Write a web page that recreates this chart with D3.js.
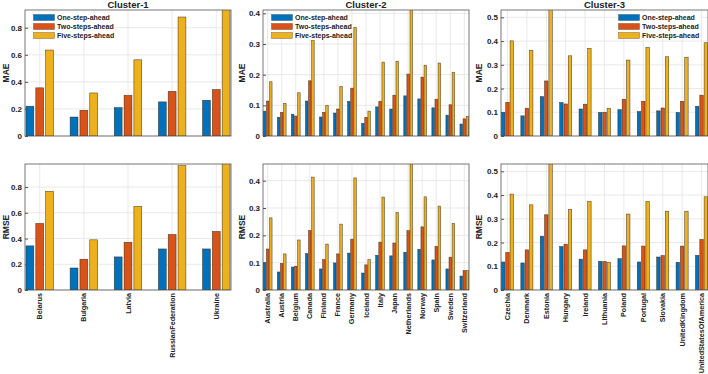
<!DOCTYPE html>
<html>
<head>
<meta charset="utf-8">
<script src="https://cdn.jsdelivr.net/npm/d3@7"></script>
<style>
  body { margin: 0; background: #fff; }
  text { font-family: "Liberation Sans", Arial, sans-serif; }
</style>
</head>
<body>
<div id="chart"></div>
<script>
// series names
const seriesNames = ["One-step-ahead", "Two-steps-ahead", "Five-steps-ahead"];

// Cluster-1
const c1Countries = ["Belarus", "Bulgaria", "Latvia", "RussianFederation", "Ukraine"];
const c1MaeOne  = [0.220, 0.140, 0.210, 0.252, 0.264];
const c1MaeTwo  = [0.356, 0.190, 0.300, 0.330, 0.343];
const c1MaeFive = [0.635, 0.318, 0.563, 0.879, 0.935];
const c1RmseOne  = [0.343, 0.171, 0.257, 0.319, 0.319];
const c1RmseTwo  = [0.517, 0.239, 0.371, 0.431, 0.455];
const c1RmseFive = [0.766, 0.390, 0.649, 0.966, 0.985];

// Cluster-2
const c2Countries = ["Australia", "Austria", "Belgium", "Canada", "Finland", "France", "Germany", "Iceland",
  "Italy", "Japan", "Netherlands", "Norway", "Spain", "Sweden", "Switzerland"];
const c2MaeOne  = [0.081, 0.061, 0.071, 0.114, 0.062, 0.075, 0.113, 0.041, 0.095, 0.088, 0.131, 0.121, 0.092, 0.068, 0.039];
const c2MaeTwo  = [0.114, 0.077, 0.065, 0.180, 0.077, 0.088, 0.156, 0.061, 0.113, 0.133, 0.202, 0.192, 0.120, 0.102, 0.056];
const c2MaeFive = [0.177, 0.106, 0.141, 0.311, 0.099, 0.162, 0.354, 0.081, 0.241, 0.244, 0.415, 0.231, 0.238, 0.208, 0.064];
const c2RmseOne  = [0.100, 0.066, 0.084, 0.133, 0.077, 0.099, 0.135, 0.062, 0.127, 0.125, 0.138, 0.149, 0.110, 0.077, 0.051];
const c2RmseTwo  = [0.150, 0.097, 0.087, 0.217, 0.111, 0.132, 0.186, 0.092, 0.175, 0.172, 0.217, 0.231, 0.160, 0.120, 0.071];
const c2RmseFive = [0.264, 0.132, 0.183, 0.413, 0.168, 0.241, 0.410, 0.111, 0.340, 0.283, 0.465, 0.341, 0.307, 0.243, 0.071];

// Cluster-3
const c3Countries = ["Czechia", "Denmark", "Estonia", "Hungary", "Ireland", "Lithuania", "Poland", "Portugal",
  "Slovakia", "UnitedKingdom", "UnitedStatesOfAmerica"];
const c3MaeOne  = [0.100, 0.085, 0.166, 0.141, 0.114, 0.099, 0.111, 0.103, 0.106, 0.099, 0.125];
const c3MaeTwo  = [0.142, 0.117, 0.232, 0.135, 0.134, 0.100, 0.155, 0.146, 0.118, 0.146, 0.172];
const c3MaeFive = [0.401, 0.361, 0.535, 0.338, 0.369, 0.117, 0.320, 0.373, 0.334, 0.332, 0.393];
const c3RmseOne  = [0.118, 0.114, 0.227, 0.183, 0.130, 0.121, 0.132, 0.118, 0.139, 0.117, 0.146];
const c3RmseTwo  = [0.158, 0.169, 0.317, 0.193, 0.169, 0.120, 0.186, 0.185, 0.145, 0.185, 0.213];
const c3RmseFive = [0.404, 0.359, 0.535, 0.339, 0.373, 0.117, 0.320, 0.373, 0.332, 0.332, 0.393];

// y axis limits / ticks per panel
const c1MaeTicks = [0, 0.2, 0.4, 0.6, 0.8], c1MaeMax = 0.931;
const c1RmseTicks = [0, 0.2, 0.4, 0.6, 0.8], c1RmseMax = 0.979;
const c2MaeTicks = [0, 0.1, 0.2, 0.3, 0.4], c2MaeMax = 0.411;
const c2RmseTicks = [0, 0.1, 0.2, 0.3, 0.4], c2RmseMax = 0.461;
const c3MaeTicks = [0, 0.1, 0.2, 0.3, 0.4, 0.5], c3MaeMax = 0.531;
const c3RmseTicks = [0, 0.1, 0.2, 0.3, 0.4, 0.5], c3RmseMax = 0.531;

const colors = ["#0072BD", "#D95319", "#EDB120"];

const svg = d3.select("#chart").append("svg")
  .attr("width", 708).attr("height", 374);

const defs = svg.append("defs");
let clipId = 0;

function drawPanel(opt) {
  const { x0, x1, y0, y1, countries, series, ticks, ymax, ylabel, showX, legendX, title } = opt;
  const g = svg.append("g");

  const x = d3.scaleBand().domain(countries).range([x0, x1])
    .paddingInner(1 - 2 / 3).paddingOuter(0);
  const xs = d3.scaleBand().domain([0, 1, 2]).range([0, x.bandwidth()]).paddingInner(0.2).paddingOuter(0.1);
  const y = d3.scaleLinear().domain([0, ymax]).range([y1, y0]);

  // grid
  g.append("g").selectAll("line").data(ticks).enter().append("line")
    .attr("x1", x0).attr("x2", x1)
    .attr("y1", d => y(d)).attr("y2", d => y(d))
    .attr("stroke", "#e3e3e3").attr("stroke-width", 0.8);
  g.append("g").selectAll("line").data(countries).enter().append("line")
    .attr("x1", d => x(d) + x.bandwidth() / 2).attr("x2", d => x(d) + x.bandwidth() / 2)
    .attr("y1", y0).attr("y2", y1)
    .attr("stroke", "#e3e3e3").attr("stroke-width", 0.8);

  // bars
  const id = "clip" + (clipId++);
  defs.append("clipPath").attr("id", id).append("rect")
    .attr("x", x0).attr("y", y0).attr("width", x1 - x0).attr("height", y1 - y0);
  const bars = g.append("g").attr("clip-path", `url(#${id})`);
  series.forEach((vals, si) => {
    bars.selectAll(null).data(vals).enter().append("rect")
      .attr("x", (d, i) => x(countries[i]) + xs(si))
      .attr("width", xs.bandwidth())
      .attr("y", d => y(d))
      .attr("height", d => y(0) - y(d))
      .attr("fill", colors[si])
      .attr("stroke", "rgba(40,30,10,0.75)")
      .attr("stroke-width", 0.6);
  });

  // axes
  const ya = g.append("g").attr("transform", `translate(${x0},0)`)
    .call(d3.axisLeft(y).tickValues(ticks).tickFormat(d => String(+d.toFixed(2))).tickSize(-3).tickPadding(3));
  ya.select(".domain").remove();
  ya.selectAll("line").attr("stroke", "#555");
  ya.selectAll("text").style("font-size", "8px").style("font-weight", "bold").attr("fill", "#222");

  const xa = g.append("g").attr("transform", `translate(0,${y1})`)
    .call(d3.axisBottom(x).tickSize(0).tickPadding(3));
  xa.select(".domain").remove();
  if (showX) {
    xa.selectAll("text")
      .style("font-size", "7.2px").style("font-weight", "bold").attr("fill", "#222")
      .attr("text-anchor", "end")
      .attr("dy", "0.35em")
      .attr("transform", "translate(0,3) rotate(-90)")
      .attr("x", 0).attr("y", 0);
  } else {
    xa.selectAll("text").remove();
  }

  // box
  g.append("rect").attr("x", x0).attr("y", y0).attr("width", x1 - x0).attr("height", y1 - y0)
    .attr("fill", "none").attr("stroke", "#555").attr("stroke-width", 0.8);

  // y label
  g.append("text")
    .attr("transform", `translate(${opt.ylabelX},${(y0 + y1) / 2}) rotate(-90)`)
    .attr("text-anchor", "middle")
    .style("font-size", "8.5px").style("font-weight", "bold").attr("fill", "#222")
    .text(ylabel);

  if (title) {
    svg.append("text").attr("x", (x0 + x1) / 2).attr("y", 8)
      .attr("text-anchor", "middle")
      .style("font-size", "9.5px").style("font-weight", "bold").attr("fill", "#222")
      .text(title);
  }

  if (legendX !== undefined) {
    const lg = g.append("g").attr("transform", `translate(${legendX},${y0 + 2})`);
    lg.append("rect").attr("x", 0).attr("y", 0).attr("width", opt.legendW).attr("height", 26)
      .attr("fill", "#fff").attr("stroke", "#f0f0f0").attr("stroke-width", 0.6);
    seriesNames.forEach((s, i) => {
      lg.append("rect").attr("x", 1.5).attr("y", 2.5 + i * 9).attr("width", 21).attr("height", 6)
        .attr("fill", colors[i]).attr("stroke", "rgba(40,30,10,0.6)").attr("stroke-width", 0.5);
      lg.append("text").attr("x", 25).attr("y", 5.5 + i * 9).attr("dy", "0.35em")
        .style("font-size", "7px").style("font-weight", "bold").attr("fill", "#222")
        .text(s);
    });
  }
}

const topY = [10, 136], botY = [164, 290];

drawPanel({ x0: 25, x1: 231, y0: topY[0], y1: topY[1], countries: c1Countries,
  series: [c1MaeOne, c1MaeTwo, c1MaeFive], ticks: c1MaeTicks, ymax: c1MaeMax,
  ylabel: "MAE", ylabelX: 9, showX: false, legendX: 32, legendW: 80, title: "Cluster-1" });
drawPanel({ x0: 25, x1: 231, y0: botY[0], y1: botY[1], countries: c1Countries,
  series: [c1RmseOne, c1RmseTwo, c1RmseFive], ticks: c1RmseTicks, ymax: c1RmseMax,
  ylabel: "RMSE", ylabelX: 9, showX: true });

drawPanel({ x0: 263, x1: 469, y0: topY[0], y1: topY[1], countries: c2Countries,
  series: [c2MaeOne, c2MaeTwo, c2MaeFive], ticks: c2MaeTicks, ymax: c2MaeMax,
  ylabel: "MAE", ylabelX: 245, showX: false, legendX: 270, legendW: 79, title: "Cluster-2" });
drawPanel({ x0: 263, x1: 469, y0: botY[0], y1: botY[1], countries: c2Countries,
  series: [c2RmseOne, c2RmseTwo, c2RmseFive], ticks: c2RmseTicks, ymax: c2RmseMax,
  ylabel: "RMSE", ylabelX: 245, showX: true });

drawPanel({ x0: 501, x1: 708, y0: topY[0], y1: topY[1], countries: c3Countries,
  series: [c3MaeOne, c3MaeTwo, c3MaeFive], ticks: c3MaeTicks, ymax: c3MaeMax,
  ylabel: "MAE", ylabelX: 482, showX: false, legendX: 617, legendW: 84, title: "Cluster-3" });
drawPanel({ x0: 501, x1: 708, y0: botY[0], y1: botY[1], countries: c3Countries,
  series: [c3RmseOne, c3RmseTwo, c3RmseFive], ticks: c3RmseTicks, ymax: c3RmseMax,
  ylabel: "RMSE", ylabelX: 482, showX: true });
</script>
</body>
</html>
